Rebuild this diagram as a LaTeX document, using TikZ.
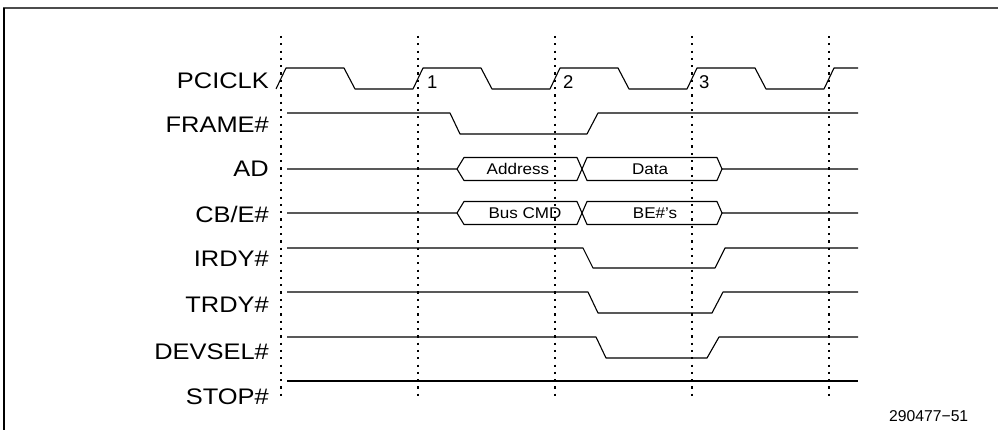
\documentclass[tikz,border=0pt]{standalone}
\usepackage{fontspec}
\setmainfont{Liberation Sans}
\begin{document}
\begin{tikzpicture}[x=1pt,y=-1pt,
  wave/.style={line width=1.1pt,line join=round},
  dotline/.style={line width=1.6pt,dash pattern=on 2.2pt off 5.1pt},
  siglabel/.style={anchor=base east,inner sep=0pt,font=\fontsize{22.5}{26}\selectfont},
  buslabel/.style={inner sep=0pt,font=\fontsize{15.5}{18}\selectfont},
  cyclabel/.style={anchor=base west,inner sep=0pt,font=\fontsize{18.5}{21}\selectfont}]
\useasboundingbox (0,0) rectangle (998,430);
% frame
\draw[line width=2pt,color=black!70] (3,8) -- (998,8);
\draw[line width=1.4pt] (4,8) -- (4,430);
% dotted clock lines
\foreach \d in {281,418,555,692,829}{
  \draw[dotline] (\d,36) -- (\d,400);
}
% labels
\node[siglabel] (lclk) at (269,89) {\scalebox{1.13}[1]{PCICLK}};
\node[siglabel] (lframe) at (269,133) {\scalebox{1.13}[1]{FRAME\#}};
\node[siglabel] (lad) at (269,177) {\scalebox{1.13}[1]{AD}};
\node[siglabel] (lcbe) at (269,223) {\scalebox{1.13}[1]{CB/E\#}};
\node[siglabel] (lirdy) at (269,267) {\scalebox{1.13}[1]{IRDY\#}};
\node[siglabel] (ltrdy) at (269,312) {\scalebox{1.13}[1]{TRDY\#}};
\node[siglabel] (ldevsel) at (269,359) {\scalebox{1.13}[1]{DEVSEL\#}};
\node[siglabel] (lstop) at (269,404) {\scalebox{1.13}[1]{STOP\#}};
% clock
\draw[wave] (276,89) -- (286,68) -- (344,68) -- (355,89) -- (413,89) -- (423,68)
  -- (481,68) -- (492,89) -- (550,89) -- (560,68) -- (618,68) -- (629,89)
  -- (687,89) -- (697,68) -- (755,68) -- (766,89) -- (824,89) -- (834,68) -- (858,68);
\node[cyclabel] (c1) at (427,89) {1};
\node[cyclabel] (c2) at (563,89) {2};
\node[cyclabel] (c3) at (699,89) {3};
% FRAME#
\draw[wave] (287,113) -- (450,113) -- (460,134) -- (587,134) -- (598,113) -- (858,113);
% AD
\draw[wave] (287,169) -- (457,169) -- (464,157.5) -- (577,157.5) -- (587,180.5) -- (717,180.5) -- (722,169) -- (858,169);
\draw[wave] (457,169) -- (464,180.5) -- (577,180.5) -- (587,157.5) -- (717,157.5) -- (722,169);
\node[buslabel] (addr) at (518,169) {\scalebox{1.1}[1]{Address}};
\node[buslabel] (data) at (650,169) {\scalebox{1.1}[1]{Data}};
% CB/E#
\draw[wave] (287,213) -- (457,213) -- (464,201.5) -- (577,201.5) -- (587,224.5) -- (717,224.5) -- (722,213) -- (858,213);
\draw[wave] (457,213) -- (464,224.5) -- (577,224.5) -- (587,201.5) -- (717,201.5) -- (722,213);
\node[buslabel] (cmd) at (525,213) {\scalebox{1.1}[1]{Bus CMD}};
\node[buslabel] (be) at (655,213) {\scalebox{1.1}[1]{BE\#'s}};
% IRDY#
\draw[wave] (287,248) -- (583,248) -- (593,268) -- (715,268) -- (725,248) -- (858,248);
% TRDY#
\draw[wave] (287,292) -- (588,292) -- (598,313) -- (712,313) -- (723,292) -- (858,292);
% DEVSEL#
\draw[wave] (287,337) -- (596,337) -- (606,358) -- (707,358) -- (719,337) -- (858,337);
% STOP#
\draw[wave] (287,381) -- (858,381);
% figure number
\node[anchor=base west,inner sep=0pt,font=\fontsize{15.7}{18}\selectfont] (fig) at (889,421) {290477−51};
\end{tikzpicture}
\end{document}
